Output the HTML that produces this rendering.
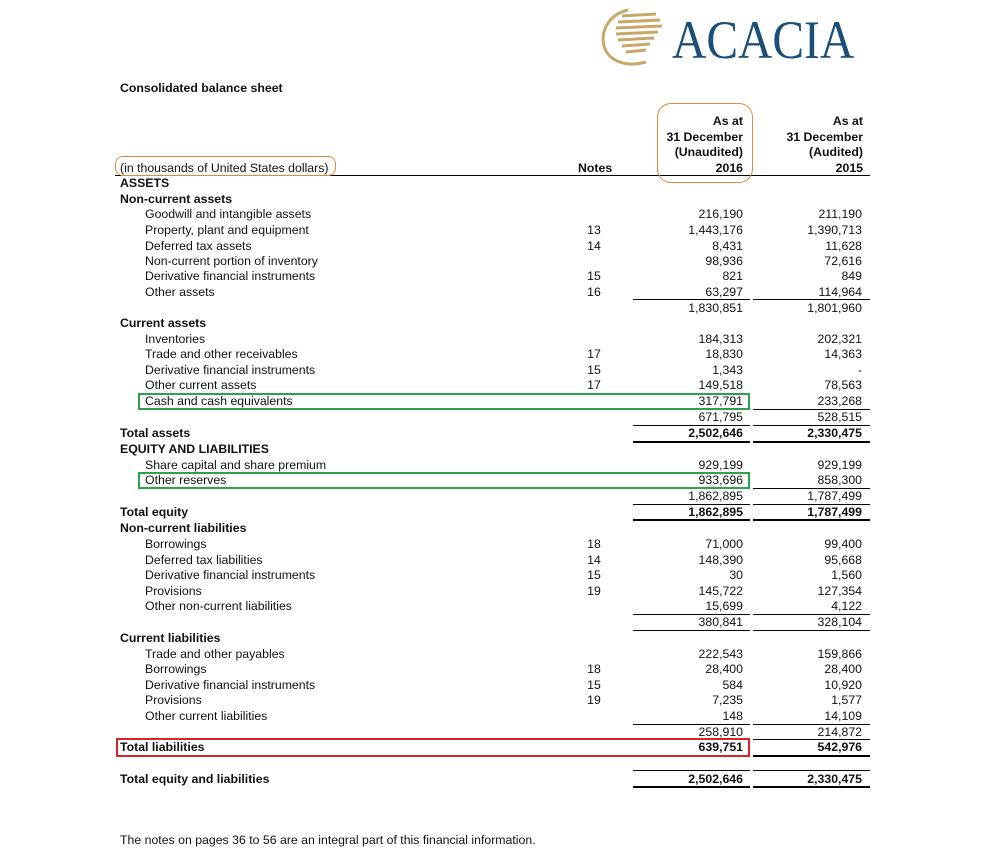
<!DOCTYPE html>
<html><head><meta charset="utf-8"><style>
body{margin:0;background:#fff;width:1008px;height:865px;position:relative;overflow:hidden;font-family:"Liberation Sans",Arial,sans-serif;font-size:12.3px;color:#111}
.t{position:absolute;white-space:nowrap;line-height:16px;height:16px}
.b{font-weight:bold}
.r1{position:absolute;right:265px;text-align:right;line-height:16px}
.r2{position:absolute;right:146px;text-align:right;line-height:16px}
.n{position:absolute;left:580px;width:28px;text-align:center;line-height:16px}
.l{position:absolute;height:1px;background:#000}
.c1{left:633px;width:117px}
.c2{left:753px;width:117px}
.box{position:absolute;box-sizing:border-box}
</style></head><body>
<svg style="position:absolute;left:598px;top:6px" width="70" height="62" viewBox="0 0 70 62">
<path d="M30 4 C12 8 2 24 6 40 C10 54 26 62 48 56" fill="none" stroke="#c8a868" stroke-width="3"/>
<g stroke="#c8a868" stroke-width="3" fill="none">
<path d="M24 10 L58 8"/><path d="M20 16 L62 14"/><path d="M18 22 L64 20"/><path d="M18 28 L60 26"/><path d="M20 34 L56 32"/><path d="M24 40 L52 38"/><path d="M28 46 L48 44"/></g></svg>
<div class="t" style="left:672px;top:12px;height:56px;line-height:56px;font-family:'Liberation Serif',serif;font-size:54px;color:#1b4e78;transform:scaleX(0.88);transform-origin:left center">ACACIA</div>

<div class="t b" style="left:120px;top:80px">Consolidated balance sheet</div>
<div class="t b" style="left:640px;top:114px;width:103px;text-align:right;line-height:15.5px;height:64px">As at<br>31 December<br>(Unaudited)<br>2016</div>
<div class="t b" style="left:760px;top:114px;width:103px;text-align:right;line-height:15.5px;height:64px">As at<br>31 December<br>(Audited)<br>2015</div>
<div class="t" style="left:120px;top:160px">(in thousands of United States dollars)</div>
<div class="t b" style="left:578px;top:160px">Notes</div>
<div class="l" style="left:115px;width:755px;top:175px"></div>
<div class="box" style="left:657px;top:103px;width:96px;height:80px;border:1px solid #e08a3c;border-radius:14px"></div>
<div class="box" style="left:115px;top:156px;width:221px;height:20px;border:1px solid #e08a3c;border-radius:8px"></div>

<div style="position:absolute;left:0;top:0;width:1008px">
<div class="t b" style="left:120px;top:175px">ASSETS</div>
<div class="t b" style="left:120px;top:191px">Non-current assets</div>

<div class="t" style="left:145px;top:206px">Goodwill and intangible assets</div><div class="r1" style="top:206px">216,190</div><div class="r2" style="top:206px">211,190</div>
<div class="t" style="left:145px;top:222px">Property, plant and equipment</div><div class="n" style="top:222px">13</div><div class="r1" style="top:222px">1,443,176</div><div class="r2" style="top:222px">1,390,713</div>
<div class="t" style="left:145px;top:238px">Deferred tax assets</div><div class="n" style="top:238px">14</div><div class="r1" style="top:238px">8,431</div><div class="r2" style="top:238px">11,628</div>
<div class="t" style="left:145px;top:253px">Non-current portion of inventory</div><div class="r1" style="top:253px">98,936</div><div class="r2" style="top:253px">72,616</div>
<div class="t" style="left:145px;top:268px">Derivative financial instruments</div><div class="n" style="top:268px">15</div><div class="r1" style="top:268px">821</div><div class="r2" style="top:268px">849</div>
<div class="t" style="left:145px;top:284px">Other assets</div><div class="n" style="top:284px">16</div><div class="r1" style="top:284px">63,297</div><div class="r2" style="top:284px">114,964</div>
<div class="l c1" style="top:299px"></div><div class="l c2" style="top:299px"></div>
<div class="r1" style="top:300px">1,830,851</div><div class="r2" style="top:300px">1,801,960</div>

<div class="t b" style="left:120px;top:315px">Current assets</div>
<div class="t" style="left:145px;top:331px">Inventories</div><div class="r1" style="top:331px">184,313</div><div class="r2" style="top:331px">202,321</div>
<div class="t" style="left:145px;top:346px">Trade and other receivables</div><div class="n" style="top:346px">17</div><div class="r1" style="top:346px">18,830</div><div class="r2" style="top:346px">14,363</div>
<div class="t" style="left:145px;top:362px">Derivative financial instruments</div><div class="n" style="top:362px">15</div><div class="r1" style="top:362px">1,343</div><div class="r2" style="top:362px">-</div>
<div class="t" style="left:145px;top:377px">Other current assets</div><div class="n" style="top:377px">17</div><div class="r1" style="top:377px">149,518</div><div class="r2" style="top:377px">78,563</div>
<div class="t" style="left:145px;top:393px">Cash and cash equivalents</div><div class="r1" style="top:393px">317,791</div><div class="r2" style="top:393px">233,268</div>
<div class="l c1" style="top:409px"></div><div class="l c2" style="top:409px"></div>
<div class="r1" style="top:409px">671,795</div><div class="r2" style="top:409px">528,515</div>
<div class="l c1" style="top:425px"></div><div class="l c2" style="top:425px"></div>
<div class="t b" style="left:120px;top:425px">Total assets</div><div class="r1 b" style="top:425px">2,502,646</div><div class="r2 b" style="top:425px">2,330,475</div>
<div class="l c1" style="top:441px;height:2px"></div><div class="l c2" style="top:441px;height:2px"></div>
<div class="t b" style="left:120px;top:441px">EQUITY AND LIABILITIES</div>
<div class="t" style="left:145px;top:457px">Share capital and share premium</div><div class="r1" style="top:457px">929,199</div><div class="r2" style="top:457px">929,199</div>
<div class="t" style="left:145px;top:472px">Other reserves</div><div class="r1" style="top:472px">933,696</div><div class="r2" style="top:472px">858,300</div>
<div class="l c1" style="top:488px"></div><div class="l c2" style="top:488px"></div>
<div class="r1" style="top:488px">1,862,895</div><div class="r2" style="top:488px">1,787,499</div>
<div class="l c1" style="top:504px"></div><div class="l c2" style="top:504px"></div>
<div class="t b" style="left:120px;top:504px">Total equity</div><div class="r1 b" style="top:504px">1,862,895</div><div class="r2 b" style="top:504px">1,787,499</div>
<div class="l c1" style="top:519px;height:2px"></div><div class="l c2" style="top:519px;height:2px"></div>
<div class="t b" style="left:120px;top:520px">Non-current liabilities</div>
<div class="t" style="left:145px;top:536px">Borrowings</div><div class="n" style="top:536px">18</div><div class="r1" style="top:536px">71,000</div><div class="r2" style="top:536px">99,400</div>
<div class="t" style="left:145px;top:552px">Deferred tax liabilities</div><div class="n" style="top:552px">14</div><div class="r1" style="top:552px">148,390</div><div class="r2" style="top:552px">95,668</div>
<div class="t" style="left:145px;top:567px">Derivative financial instruments</div><div class="n" style="top:567px">15</div><div class="r1" style="top:567px">30</div><div class="r2" style="top:567px">1,560</div>
<div class="t" style="left:145px;top:583px">Provisions</div><div class="n" style="top:583px">19</div><div class="r1" style="top:583px">145,722</div><div class="r2" style="top:583px">127,354</div>
<div class="t" style="left:145px;top:598px">Other non-current liabilities</div><div class="r1" style="top:598px">15,699</div><div class="r2" style="top:598px">4,122</div>
<div class="l c1" style="top:614px"></div><div class="l c2" style="top:614px"></div>
<div class="r1" style="top:614px">380,841</div><div class="r2" style="top:614px">328,104</div>
<div class="l c1" style="top:630px"></div><div class="l c2" style="top:630px"></div>
<div class="t b" style="left:120px;top:630px">Current liabilities</div>
<div class="t" style="left:145px;top:646px">Trade and other payables</div><div class="r1" style="top:646px">222,543</div><div class="r2" style="top:646px">159,866</div>
<div class="t" style="left:145px;top:661px">Borrowings</div><div class="n" style="top:661px">18</div><div class="r1" style="top:661px">28,400</div><div class="r2" style="top:661px">28,400</div>
<div class="t" style="left:145px;top:677px">Derivative financial instruments</div><div class="n" style="top:677px">15</div><div class="r1" style="top:677px">584</div><div class="r2" style="top:677px">10,920</div>
<div class="t" style="left:145px;top:692px">Provisions</div><div class="n" style="top:692px">19</div><div class="r1" style="top:692px">7,235</div><div class="r2" style="top:692px">1,577</div>
<div class="t" style="left:145px;top:708px">Other current liabilities</div><div class="r1" style="top:708px">148</div><div class="r2" style="top:708px">14,109</div>
<div class="l c1" style="top:724px"></div><div class="l c2" style="top:724px"></div>
<div class="r1" style="top:724px">258,910</div><div class="r2" style="top:724px">214,872</div>
<div class="l c1" style="top:739px"></div><div class="l c2" style="top:739px"></div>
<div class="t b" style="left:120px;top:739px">Total liabilities</div><div class="r1 b" style="top:739px">639,751</div><div class="r2 b" style="top:739px">542,976</div>
<div class="l c1" style="top:755px;height:2px"></div><div class="l c2" style="top:755px;height:2px"></div>
<div class="l c1" style="top:770px"></div><div class="l c2" style="top:770px"></div>
<div class="t b" style="left:120px;top:771px">Total equity and liabilities</div><div class="r1 b" style="top:771px">2,502,646</div><div class="r2 b" style="top:771px">2,330,475</div>
<div class="l c1" style="top:786px;height:2px"></div><div class="l c2" style="top:786px;height:2px"></div>
</div>

<div class="box" style="left:138px;top:393px;width:612px;height:17px;border:2px solid #2ca34a"></div>
<div class="box" style="left:138px;top:472px;width:612px;height:17px;border:2px solid #2ca34a"></div>
<div class="box" style="left:116px;top:738px;width:634px;height:19px;border:2px solid #d9232a"></div>

<div class="t" style="left:120px;top:832px">The notes on pages 36 to 56 are an integral part of this financial information.</div>
</body></html>
